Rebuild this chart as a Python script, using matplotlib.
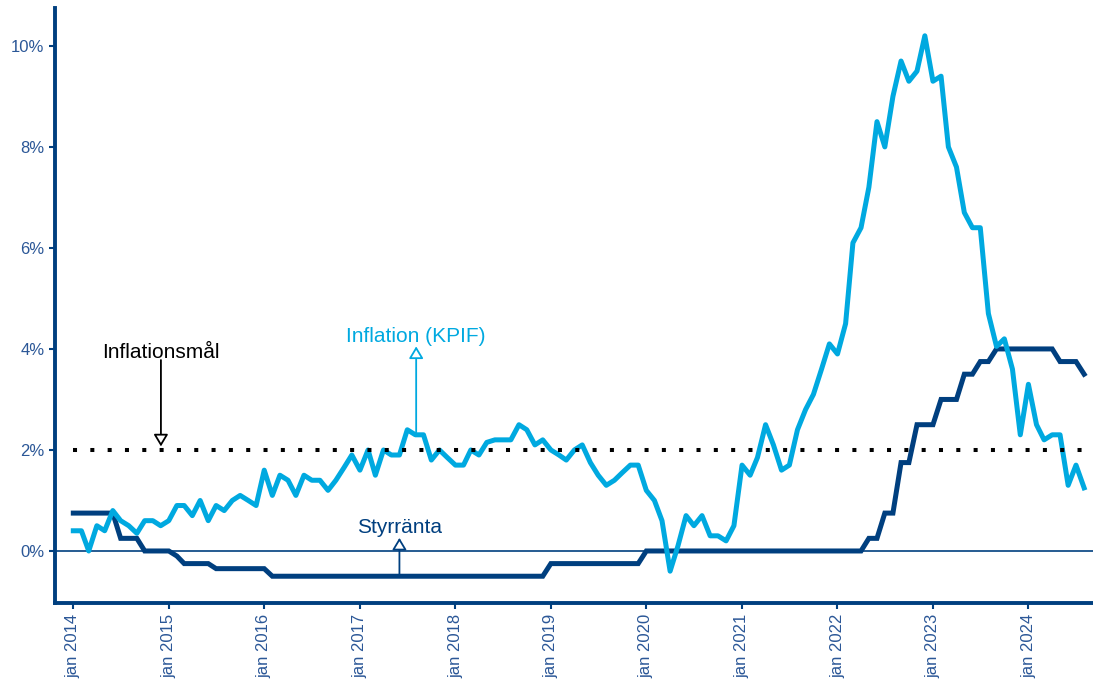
import matplotlib
matplotlib.use('Agg')
import matplotlib.pyplot as plt
import matplotlib.dates as mdates
import pandas as pd

plt.rcParams['font.family'] = ['Liberation Sans', 'DejaVu Sans']

# månadsdata jan 2014 - aug 2024
months = pd.date_range('2014-01-01', periods=128, freq='MS')

kpif = [
    0.4, 0.4, 0.0, 0.5, 0.4, 0.8, 0.6, 0.5, 0.35, 0.6, 0.6, 0.5,      # 2014
    0.6, 0.9, 0.9, 0.7, 1.0, 0.6, 0.9, 0.8, 1.0, 1.1, 1.0, 0.9,       # 2015
    1.6, 1.1, 1.5, 1.4, 1.1, 1.5, 1.4, 1.4, 1.2, 1.4, 1.65, 1.9,      # 2016
    1.6, 2.0, 1.5, 2.0, 1.9, 1.9, 2.4, 2.3, 2.3, 1.8, 2.0, 1.85,      # 2017
    1.7, 1.7, 2.0, 1.9, 2.15, 2.2, 2.2, 2.2, 2.5, 2.4, 2.1, 2.2,      # 2018
    2.0, 1.9, 1.8, 2.0, 2.1, 1.75, 1.5, 1.3, 1.4, 1.55, 1.7, 1.7,     # 2019
    1.2, 1.0, 0.6, -0.4, 0.1, 0.7, 0.5, 0.7, 0.3, 0.3, 0.2, 0.5,      # 2020
    1.7, 1.5, 1.85, 2.5, 2.1, 1.6, 1.7, 2.4, 2.8, 3.1, 3.6, 4.1,      # 2021
    3.9, 4.5, 6.1, 6.4, 7.2, 8.5, 8.0, 9.0, 9.7, 9.3, 9.5, 10.2,      # 2022
    9.3, 9.4, 8.0, 7.6, 6.7, 6.4, 6.4, 4.7, 4.05, 4.2, 3.6, 2.3,      # 2023
    3.3, 2.5, 2.2, 2.3, 2.3, 1.3, 1.7, 1.25,                          # 2024
]

styrranta = (
    [0.75] * 6 + [0.25] * 3 + [0.0] * 4 + [-0.10] + [-0.25] * 4 + [-0.35] * 7
    + [-0.50] * 35 + [-0.25] * 12 + [0.0] * 28
    + [0.25] * 2 + [0.75] * 2 + [1.75] * 2 + [2.5] * 3 + [3.0] * 3
    + [3.5] * 2 + [3.75] * 2 + [4.0] * 8 + [3.75] * 3 + [3.5]
)

inflationsmal = 2.0

ljusbla = '#00a9e0'
morkbla = '#003f7f'
textbla = '#2b5797'

fig = plt.figure(figsize=(10.93, 6.84), dpi=100)
ax = fig.add_axes([55 / 1093, 1 - 603 / 684, 1 - 55 / 1093, 595 / 684])

ax.axhline(0, color=morkbla, lw=1.2, zorder=1)
ax.plot(months, styrranta, color=morkbla, lw=3.6, zorder=2, solid_joinstyle='miter')
ax.plot(months, kpif, color=ljusbla, lw=3.6, zorder=3)
ax.plot([months[0], months[-1]], [inflationsmal, inflationsmal], color='black',
        lw=2.9, linestyle=(0, (1, 3.3)), zorder=4)

ax.set_ylim(-1.03, 10.75)
ax.set_xlim(pd.Timestamp('2013-10-23'), pd.Timestamp('2024-09-04'))

ax.set_yticks([0, 2, 4, 6, 8, 10])
ax.set_yticklabels(['0%', '2%', '4%', '6%', '8%', '10%'])
ax.xaxis.set_major_locator(mdates.YearLocator())
ax.xaxis.set_major_formatter(mdates.DateFormatter('jan %Y'))
plt.setp(ax.get_xticklabels(), rotation=90)

ax.tick_params(axis='both', colors=morkbla, labelcolor=textbla, labelsize=12,
               length=4, width=1.5)

for s in ['top', 'right']:
    ax.spines[s].set_visible(False)
for s in ['left', 'bottom']:
    ax.spines[s].set_color(morkbla)
    ax.spines[s].set_linewidth(2.8)

# annoteringar
pil = '-|>,head_length=0.6,head_width=0.36'

x_mal = pd.Timestamp('2014-12-02')
ax.text(x_mal, 3.83, 'Inflationsmål', color='black', fontsize=15,
        ha='center', va='baseline', zorder=5)
ax.annotate('', xy=(x_mal, 2.07), xytext=(x_mal, 3.78),
            arrowprops=dict(arrowstyle=pil, fc='white', ec='black', lw=1.3,
                            mutation_scale=12, shrinkA=0, shrinkB=0))

x_kpif = pd.Timestamp('2017-08-04')
ax.text(x_kpif, 4.14, 'Inflation (KPIF)', color=ljusbla, fontsize=15,
        ha='center', va='baseline', zorder=5)
ax.annotate('', xy=(x_kpif, 4.05), xytext=(x_kpif, 2.35),
            arrowprops=dict(arrowstyle=pil, fc='white', ec=ljusbla, lw=1.3,
                            mutation_scale=12, shrinkA=0, shrinkB=0))

x_styr = pd.Timestamp('2017-06-01')
ax.text(x_styr, 0.36, 'Styrränta', color=morkbla, fontsize=15,
        ha='center', va='baseline', zorder=5)
ax.annotate('', xy=(x_styr, 0.26), xytext=(x_styr, -0.5),
            arrowprops=dict(arrowstyle=pil, fc='white', ec=morkbla, lw=1.3,
                            mutation_scale=12, shrinkA=0, shrinkB=0))

fig.savefig('out.png', dpi=100)
